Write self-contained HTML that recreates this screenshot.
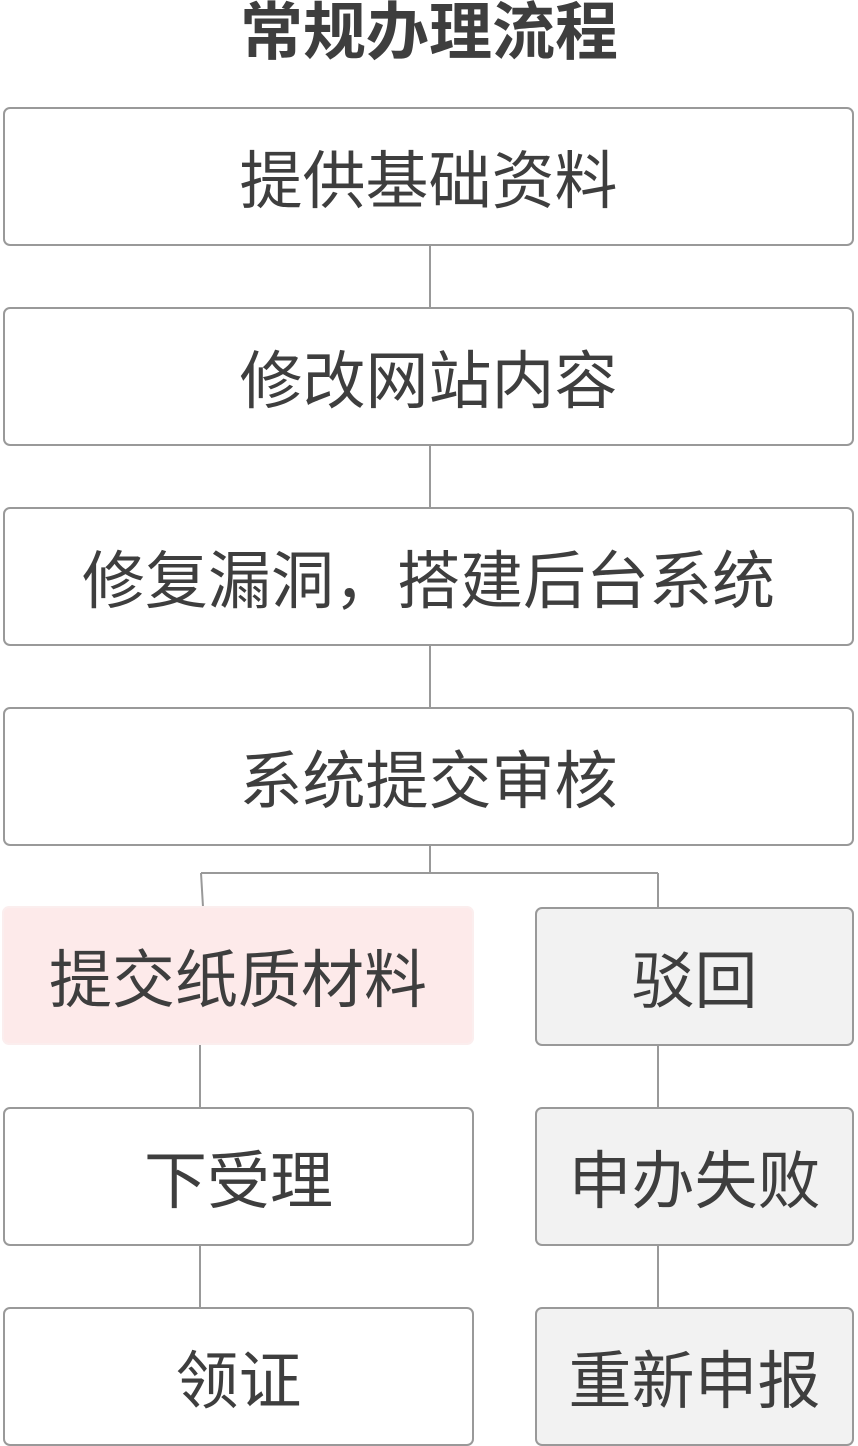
<!DOCTYPE html>
<html><head><meta charset="utf-8"><style>
body{margin:0;width:858px;height:1446px;background:#fff;position:relative;font-family:"Liberation Sans","Noto Sans CJK SC",sans-serif;overflow:hidden}
.b{position:absolute;box-sizing:border-box;border:2px solid #999;border-radius:7px;background:#fff;display:flex;align-items:center;justify-content:center;font-size:63px;color:#3e3e3e;height:139px;padding-top:0px}
.g{background:#f2f2f2}
.p{background:#fdeaea;border-color:#fbeeee}
.t{position:absolute;left:0;width:858px;top:0;text-align:center;font-size:63px;font-weight:bold;color:#3e3e3e;line-height:66px}
svg{position:absolute;left:0;top:0}
</style></head><body>
<div class="t">常规办理流程</div>
<svg width="858" height="1446"><g stroke="#999" stroke-width="2" fill="none">
<path d="M430 245V307M430 445V507M430 645V707M430 845V873M201 873H658M201 873L203 907M658 873V907M200 1045V1107M200 1245V1307M658 1045V1107M658 1245V1307"/></g></svg>
<div class="b" style="left:3px;top:107px;width:851px">提供基础资料</div>
<div class="b" style="left:3px;top:307px;width:851px">修改网站内容</div>
<div class="b" style="left:3px;top:507px;width:851px">修复漏洞，搭建后台系统</div>
<div class="b" style="left:3px;top:707px;width:851px">系统提交审核</div>
<div class="b p" style="left:2px;top:906px;width:472px">提交纸质材料</div>
<div class="b g" style="left:535px;top:907px;width:319px">驳回</div>
<div class="b" style="left:3px;top:1107px;width:471px">下受理</div>
<div class="b g" style="left:535px;top:1107px;width:319px">申办失败</div>
<div class="b" style="left:3px;top:1307px;width:471px">领证</div>
<div class="b g" style="left:535px;top:1307px;width:319px">重新申报</div>
</body></html>
